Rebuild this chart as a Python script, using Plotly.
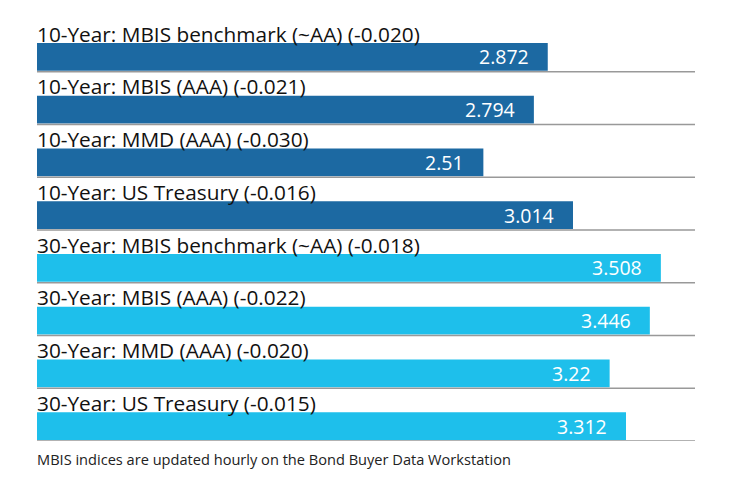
import plotly.graph_objects as go

labels = [
    "10-Year: MBIS benchmark (~AA) (-0.020)",
    "10-Year: MBIS (AAA) (-0.021)",
    "10-Year: MMD (AAA) (-0.030)",
    "10-Year: US Treasury (-0.016)",
    "30-Year: MBIS benchmark (~AA) (-0.018)",
    "30-Year: MBIS (AAA) (-0.022)",
    "30-Year: MMD (AAA) (-0.020)",
    "30-Year: US Treasury (-0.015)",
]
values = [2.872, 2.794, 2.51, 3.014, 3.508, 3.446, 3.22, 3.312]
value_text = ["2.872", "2.794", "2.51", "3.014", "3.508", "3.446", "3.22", "3.312"]
colors = ["#1c69a2"] * 4 + ["#1ebfeb"] * 4
footer = "MBIS indices are updated hourly on the Bond Buyer Data Workstation"

idx = list(range(len(values)))

fig = go.Figure()
fig.add_trace(go.Bar(
    x=values, y=idx, orientation="h",
    marker=dict(color=colors, line=dict(width=0)),
    width=0.525, offset=-0.045,
    hoverinfo="skip",
))

for i, (lab, v, t) in enumerate(zip(labels, values, value_text)):
    fig.add_annotation(x=0, y=i - 0.225, xref="x", yref="y", text=lab,
                       showarrow=False, xanchor="left", yanchor="middle",
                       xshift=-2,
                       font=dict(family="Open Sans", size=20.8, color="#111111"))
    fig.add_annotation(x=v, y=i + 0.22, xref="x", yref="y", text=t,
                       showarrow=False, xanchor="right", yanchor="middle",
                       xshift=-17,
                       font=dict(family="Open Sans", size=19.5, color="#ffffff"))
    fig.add_shape(type="line", xref="paper", yref="y", x0=0, x1=1,
                  y0=i + 0.5, y1=i + 0.5,
                  line=dict(color="#999999", width=1.5))

fig.add_annotation(x=0, y=-(459 - 441) / (441 - 19), xref="paper", yref="paper",
                   text=footer, showarrow=False, xanchor="left", yanchor="middle",
                   xshift=-2,
                   font=dict(family="Open Sans", size=14.6, color="#222222"))

fig.update_layout(
    width=740, height=490,
    margin=dict(l=29, r=53, t=11, b=57),
    paper_bgcolor="white", plot_bgcolor="white",
    showlegend=False,
    xaxis=dict(range=[0, 3.7], visible=False, fixedrange=True),
    yaxis=dict(range=[7.5, -0.5], visible=False, fixedrange=True),
)

fig.write_html("out.html")
